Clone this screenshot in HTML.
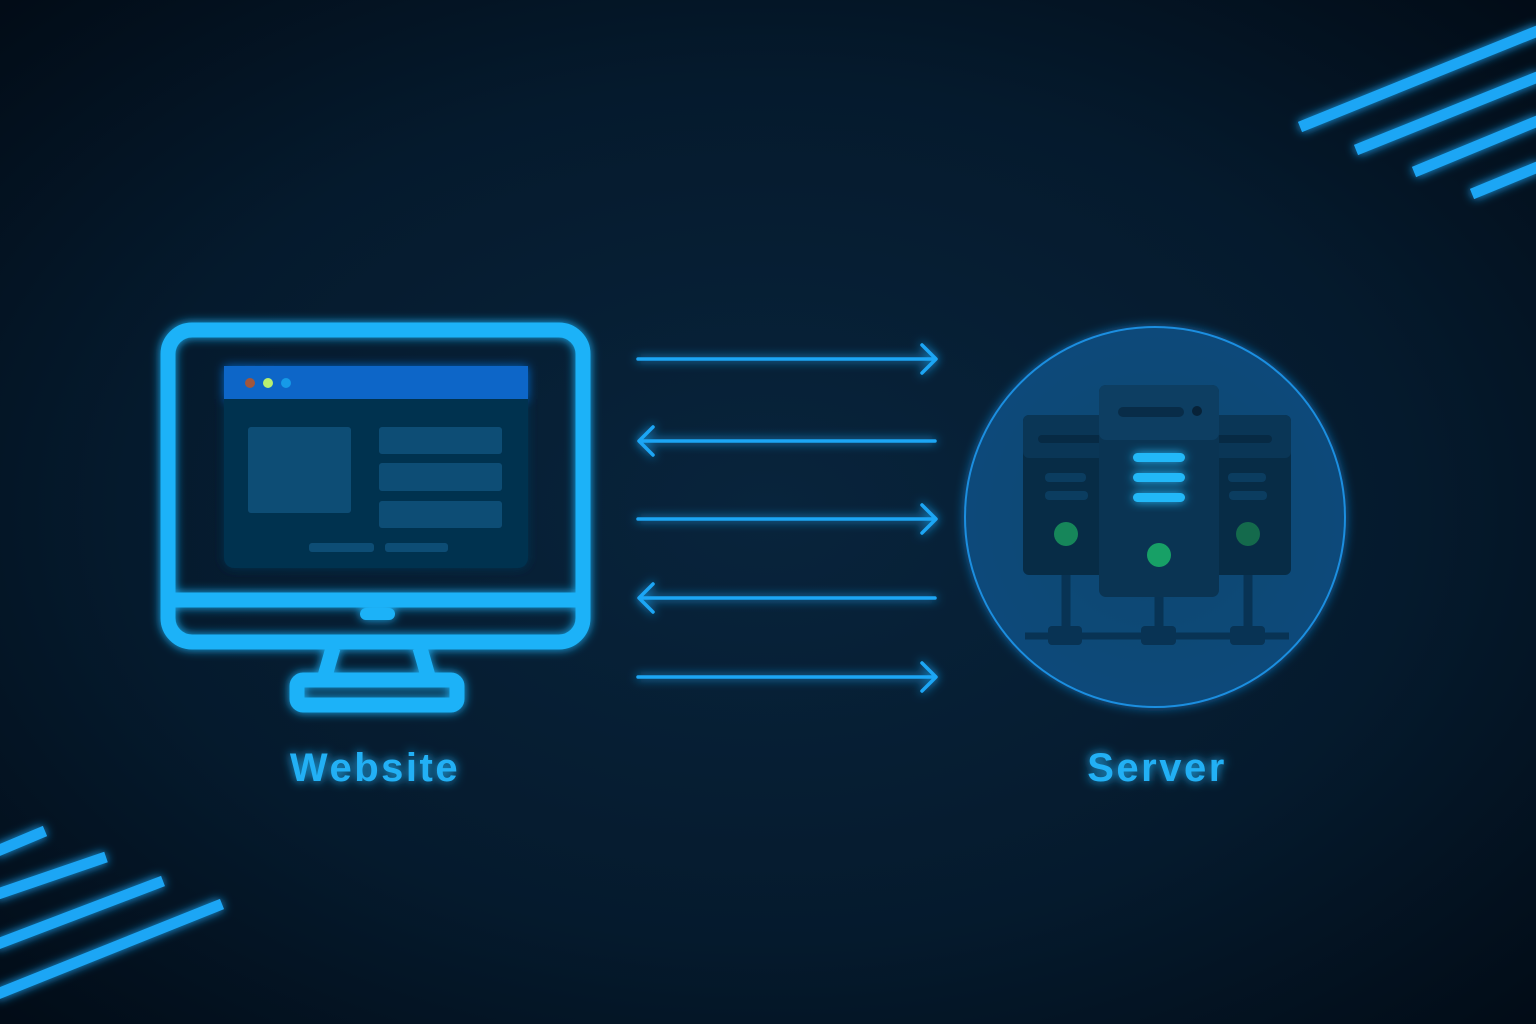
<!DOCTYPE html>
<html><head><style>
html,body{margin:0;padding:0;background:#031525;}
svg{display:block}
</style></head><body>
<svg width="1536" height="1024" viewBox="0 0 1536 1024" xmlns="http://www.w3.org/2000/svg">
<defs>
<radialGradient id="bg" cx="50%" cy="50%" r="70%">
<stop offset="0" stop-color="#08243c"/><stop offset="0.6" stop-color="#051a2d"/><stop offset="1" stop-color="#020c17"/>
</radialGradient>
<radialGradient id="circ" cx="50%" cy="50%" r="50%">
<stop offset="0" stop-color="#0b456f"/><stop offset="1" stop-color="#0a4a7a"/>
</radialGradient>
<filter id="glow" x="-20%" y="-20%" width="140%" height="140%">
<feGaussianBlur stdDeviation="5" result="b"/>
<feMerge><feMergeNode in="b"/><feMergeNode in="SourceGraphic"/></feMerge>
</filter>
</defs>
<rect width="1536" height="1024" fill="url(#bg)"/>
<g stroke="#1ea6f5" stroke-width="11" filter="url(#glow)">
<line x1="1300" y1="127" x2="1540" y2="30"/>
<line x1="1356" y1="150" x2="1540" y2="76"/>
<line x1="1414" y1="172" x2="1540" y2="120"/>
<line x1="1472" y1="194" x2="1540" y2="166"/>
<line x1="-5" y1="852" x2="45" y2="831"/>
<line x1="-5" y1="895" x2="106" y2="857"/>
<line x1="-5" y1="945" x2="163" y2="881"/>
<line x1="-5" y1="995" x2="222" y2="904"/>
</g>
<g filter="url(#glow)">
<rect x="224" y="366" width="304" height="202" rx="10" fill="#06304f"/>
<rect x="224" y="366" width="304" height="33" fill="#0a66c8"/>
<circle cx="250" cy="383" r="5" fill="#a0563e"/>
<circle cx="268" cy="383" r="5" fill="#b8f070"/>
<circle cx="286" cy="383" r="5" fill="#129ae8"/>
<rect x="248" y="427" width="103" height="86" rx="3" fill="#0a4d75"/>
<rect x="379" y="427" width="123" height="27" rx="3" fill="#0a4d75"/>
<rect x="379" y="463" width="123" height="28" rx="3" fill="#0a4d75"/>
<rect x="379" y="501" width="123" height="27" rx="3" fill="#0a4d75"/>
<rect x="309" y="543" width="65" height="9" rx="3" fill="#0a4d75"/>
<rect x="385" y="543" width="63" height="9" rx="3" fill="#0a4d75"/>
<g fill="none" stroke="#1cb2f8" stroke-width="15" stroke-linejoin="round">
<rect x="168" y="330" width="415" height="312" rx="24"/>
<line x1="170" y1="600" x2="582" y2="600"/>
<path d="M333 648 L325 676 M420 648 L428 676"/>
<rect x="297" y="680" width="160" height="25" rx="6"/>
</g>
<rect x="360" y="608" width="35" height="12" rx="6" fill="#1cb2f8"/>
</g>
<text x="375" y="781" text-anchor="middle" font-family="Liberation Sans, sans-serif" font-weight="bold" font-size="40" letter-spacing="2.5" fill="#22b0f5" filter="url(#glow)">Website</text>
<text x="1157" y="781" text-anchor="middle" font-family="Liberation Sans, sans-serif" font-weight="bold" font-size="40" letter-spacing="2.5" fill="#22b0f5" filter="url(#glow)">Server</text>
<g fill="none" stroke="#1ea6f5" stroke-width="3.5" stroke-linecap="round" stroke-linejoin="round" filter="url(#glow)">
<path d="M638 359 H935 M922 345 L936 359 L922 373"/>
<path d="M935 441 H640 M653 427 L639 441 L653 455"/>
<path d="M638 519 H935 M922 505 L936 519 L922 533"/>
<path d="M935 598 H640 M653 584 L639 598 L653 612"/>
<path d="M638 677 H935 M922 663 L936 677 L922 691"/>
</g>
<circle cx="1155" cy="517" r="190" fill="url(#circ)" stroke="#1a8ee0" stroke-width="2" filter="url(#glow)"/>
<g>
<line x1="1025" y1="636" x2="1289" y2="636" stroke="#083354" stroke-width="7"/>
<g stroke="#083354" stroke-width="9"><line x1="1066" y1="570" x2="1066" y2="632"/><line x1="1159" y1="590" x2="1159" y2="632"/><line x1="1248" y1="570" x2="1248" y2="632"/></g>
<g fill="#083354"><rect x="1048" y="626" width="34" height="19" rx="4"/><rect x="1141" y="626" width="35" height="19" rx="4"/><rect x="1230" y="626" width="35" height="19" rx="4"/></g>
<rect x="1023" y="415" width="117" height="160" rx="6" fill="#072c46"/>
<rect x="1023" y="415" width="117" height="43" rx="6" fill="#0a3656"/>
<rect x="1170" y="415" width="121" height="160" rx="6" fill="#072c46"/>
<rect x="1170" y="415" width="121" height="43" rx="6" fill="#0a3656"/>
<rect x="1038" y="435" width="100" height="8" rx="4" fill="#072a44"/>
<rect x="1180" y="435" width="92" height="8" rx="4" fill="#072a44"/>
<g fill="#0b3d60"><rect x="1045" y="473" width="41" height="9" rx="4"/><rect x="1045" y="491" width="43" height="9" rx="4"/><rect x="1228" y="473" width="38" height="9" rx="4"/><rect x="1229" y="491" width="38" height="9" rx="4"/></g>
<circle cx="1066" cy="534" r="12" fill="#16865a"/>
<circle cx="1248" cy="534" r="12" fill="#146a4c"/>
<rect x="1099" y="385" width="120" height="212" rx="7" fill="#0a3453"/>
<rect x="1099" y="385" width="120" height="55" rx="7" fill="#0d3e62"/>
<rect x="1118" y="407" width="66" height="10" rx="5" fill="#082c48"/>
<circle cx="1197" cy="411" r="5" fill="#072238"/>
<g fill="#22b8f8" filter="url(#glow)"><rect x="1133" y="453" width="52" height="9" rx="4.5"/><rect x="1133" y="473" width="52" height="9" rx="4.5"/><rect x="1133" y="493" width="52" height="9" rx="4.5"/></g>
<circle cx="1159" cy="555" r="12" fill="#17a066"/>
</g>
</svg>
</body></html>
